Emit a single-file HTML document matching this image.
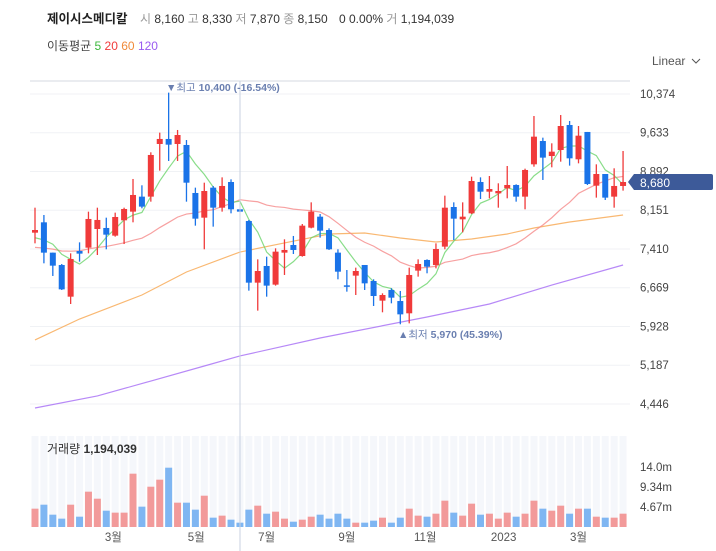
<!DOCTYPE html>
<html><head><meta charset="utf-8">
<style>
body{margin:0;background:#fff;width:716px;height:551px;overflow:hidden;font-family:"Liberation Sans","Noto Sans CJK KR",sans-serif;}
svg{position:absolute;left:0;top:0}
</style></head>
<body>
<svg id="chart" width="716" height="551">
<g font-size="12">
<text x="47" y="23" font-weight="bold" fill="#222" font-size="12.5">제이시스메디칼</text>
<text x="140" y="23" fill="#333"><tspan fill="#999">시</tspan> 8,160 <tspan fill="#999">고</tspan> 8,330 <tspan fill="#999">저</tspan> 7,870 <tspan fill="#999">종</tspan> 8,150 <tspan dx="8">0 0.00%</tspan> <tspan fill="#999">거</tspan> 1,194,039</text>
<text x="47" y="50" fill="#444">이동평균 <tspan fill="#3cb83c">5</tspan> <tspan fill="#f03a3a">20</tspan> <tspan fill="#f08a3a">60</tspan> <tspan fill="#9a5af0">120</tspan></text>
<text x="652" y="65" fill="#555">Linear</text>
<path d="M692 59 L696 63 L700 59" stroke="#555" fill="none"/>
</g>
<line x1="30" y1="81" x2="630" y2="81" stroke="#d5d9e0"/>
<g id="grid"></g><g id="vbg"></g><g id="vol"></g><g id="mas"></g><g id="candles"></g><g id="axis"></g>
<line x1="240" y1="81" x2="240" y2="551" stroke="#c8d2e0"/>
<text x="166" y="91" font-size="10.5" fill="#6a7fb0">▼최고 <tspan font-weight="bold">10,400 (-16.54%)</tspan></text>
<text x="398" y="338" font-size="10.5" fill="#6a7fb0">▲최저 <tspan font-weight="bold">5,970 (45.39%)</tspan></text>
<text x="47" y="453" font-size="12" fill="#333">거래량 <tspan font-weight="bold">1,194,039</tspan></text>
<path d="M628 182 L634 174 L711 174 Q713 174 713 176 L713 188 Q713 190 711 190 L634 190 Z" fill="#3d5a99"/>
<text x="640" y="187" font-size="12" fill="#fff">8,680</text>
</svg>
<script>
const opens=[7722,7920,7340,7104,6498,7372,7435,7792,7812,7665,7958,8124,8411,8411,9418,9514,9418,9399,8481,8009,8583,8200,8691,8169,7945,6766,7085,6728,7340,7486,7276,7818,8028,7773,7340,6715,6900,7104,6798,6422,6626,6415,6180,6996,7200,7104,7455,8213,7977,8092,8691,8506,8474,8570,8634,8411,9029,9475,9188,9303,9781,9125,9648,8621,8844,8411,8615];
const highs=[8200,8060,7340,7123,7327,7537,8124,8200,8009,8105,8200,8749,8628,9259,9635,10400,9686,9494,8583,8678,8615,8780,8742,8169,7965,7212,7263,7423,7595,7659,7888,8302,8079,7805,7404,7008,7053,7104,6830,6562,6658,6607,7053,7212,7212,7518,8430,8302,8302,8793,8780,8806,8666,8997,8647,8946,9953,9539,9431,9972,9858,9762,9648,9029,8844,8953,9284];
const lows=[7518,7136,6894,6626,6358,7168,7327,7295,7404,7646,7505,7920,8188,8315,8908,9093,9093,8315,7856,7404,7837,8124,8092,8124,6613,6231,6498,6709,6913,7314,7263,7805,7627,7391,6830,6594,6530,6626,6320,6199,6371,5970,5988,6881,6945,7040,7404,7582,7729,8079,8366,8379,8200,8379,8315,8169,8984,8730,8972,9080,9004,9048,8634,8392,8347,8200,8526];
const closes=[7773,7340,7091,6638,7219,7321,7984,7965,7684,8022,8175,8443,8220,9208,9514,9405,9590,8678,7990,8519,8200,8615,8169,8124,6766,6989,6709,7359,7391,7391,7856,8124,7760,7404,6976,6690,6989,6753,6511,6530,6479,6160,6913,7123,7072,7410,8200,7990,8028,8710,8506,8557,8519,8634,8411,8921,9558,9157,9271,9762,9144,9577,8653,8844,8392,8615,8691];
const volumes=[4.28,5.21,2.88,1.95,5.21,2.41,8.25,6.61,3.81,3.35,3.35,12.45,4.75,9.41,11.05,13.85,5.68,5.68,4.05,7.31,2.18,2.65,1.71,1.01,4.05,4.98,3.11,3.58,1.95,1.24,1.71,2.41,2.88,1.95,3.11,1.95,1.01,1.01,1.48,2.18,1.01,2.18,4.28,2.65,2.41,3.11,6.15,3.35,2.65,5.45,2.88,3.11,1.95,3.35,2.41,3.11,6.15,4.28,3.81,4.98,3.11,4.28,4.28,2.41,2.18,2.18,3.11];
const priorCloses=[7600,7500,7350,7300,7200,7250,7400,7300,7350,7450,7500,7400,7350,7300,7450,7550,7500,7600,7700];
const ma60Idx=[0,5,12,17,23,28,33,37,41,45,49,53,56,60,66];
const ma60Val=[5670,6071,6530,6970,7352,7525,7697,7716,7620,7544,7601,7697,7811,7926,8060];
const ma120Idx=[0,7,13,19,23,32,44,51,58,66];
const ma120Val=[4369,4599,4885,5172,5364,5708,6109,6358,6721,7104];
const priceTicks=[10374,9633,8892,8151,7410,6669,5928,5187,4446];
const volTicks=[14.0,9.34,4.67];
const volTickLabels=["14.0m","9.34m","4.67m"];
const monthIdx=[8.8,18.1,26,35,43.8,52.6,61];
const monthLabels=["3월","5월","7월","9월","11월","2023","3월"];

const NS="http://www.w3.org/2000/svg";
const X=i=>35+i*8.91;
const Y=v=>94+(10374-v)*0.05229;
const VY=v=>527-v*(20/4.67);
const RED="#f03a3a",BLUE="#1a73e8";
function mk(tag,attrs,parent){const e=document.createElementNS(NS,tag);for(const k in attrs)e.setAttribute(k,attrs[k]);document.getElementById(parent).appendChild(e);return e;}

priceTicks.forEach(t=>{
  const l=mk('line',{x1:30,x2:630,y1:Y(t),y2:Y(t),stroke:'#f0f2f5'},'grid');
  
  
  const tx=mk('text',{x:640,y:Y(t)+4,'font-size':11.5,fill:'#444'},'axis');
  tx.textContent=t.toLocaleString('en-US');
  
  
});
volTicks.forEach((t,k)=>{
  const tx=mk('text',{x:640,y:VY(t)+4,'font-size':11.5,fill:'#444'},'axis');
  tx.textContent=volTickLabels[k];
  
  
});
monthIdx.forEach((m,k)=>{
  const tx=mk('text',{x:X(m),y:541,'font-size':11.5,fill:'#555','text-anchor':'middle'},'axis');
  tx.textContent=monthLabels[k];
  
  
});
closes.forEach((c,i)=>{
  const bg=mk('rect',{x:X(i)-3.5,y:436,width:7,height:91,fill:'#f5f7fb'},'vbg');
  
  
  const up=c>=opens[i];
  const col=up?RED:BLUE;
  const vb=mk('rect',{x:X(i)-3.5,y:VY(volumes[i]),width:7,height:527-VY(volumes[i]),fill:up?'#f29a9a':'#7fb6f2'},'vol');
  
  
  const w=mk('line',{x1:X(i),x2:X(i),y1:Y(highs[i]),y2:Y(lows[i]),stroke:col,'stroke-width':1.3},'candles');
  
  
  const top=Y(Math.max(opens[i],c)),bot=Y(Math.min(opens[i],c));
  const b=mk('rect',{x:X(i)-3,y:top,width:6,height:Math.max(1.5,bot-top),fill:col},'candles');
  
  
});
function ma(n){const all=priorCloses.concat(closes);const off=priorCloses.length;return closes.map((_,i)=>{const s=Math.max(0,off+i-n+1);const arr=all.slice(s,off+i+1);return arr.reduce((a,b)=>a+b,0)/arr.length;});}
function poly(pts,color,name){const p=mk('polyline',{points:pts.join(' '),fill:'none',stroke:color,'stroke-width':1.2,opacity:0.8},'mas');}
poly(ma60Idx.map((k,j)=>X(k)+','+Y(ma60Val[j])),'#f8a64f','ma60-line');
poly(ma120Idx.map((k,j)=>X(k)+','+Y(ma120Val[j])),'#a56cf5','ma120-line');
poly(ma(20).map((v,i)=>X(i)+','+Y(v)),'#f58a8a','ma20-line');
poly(ma(5).map((v,i)=>X(i)+','+Y(v)),'#6cd46c','ma5-line');
</script>
</body></html>
